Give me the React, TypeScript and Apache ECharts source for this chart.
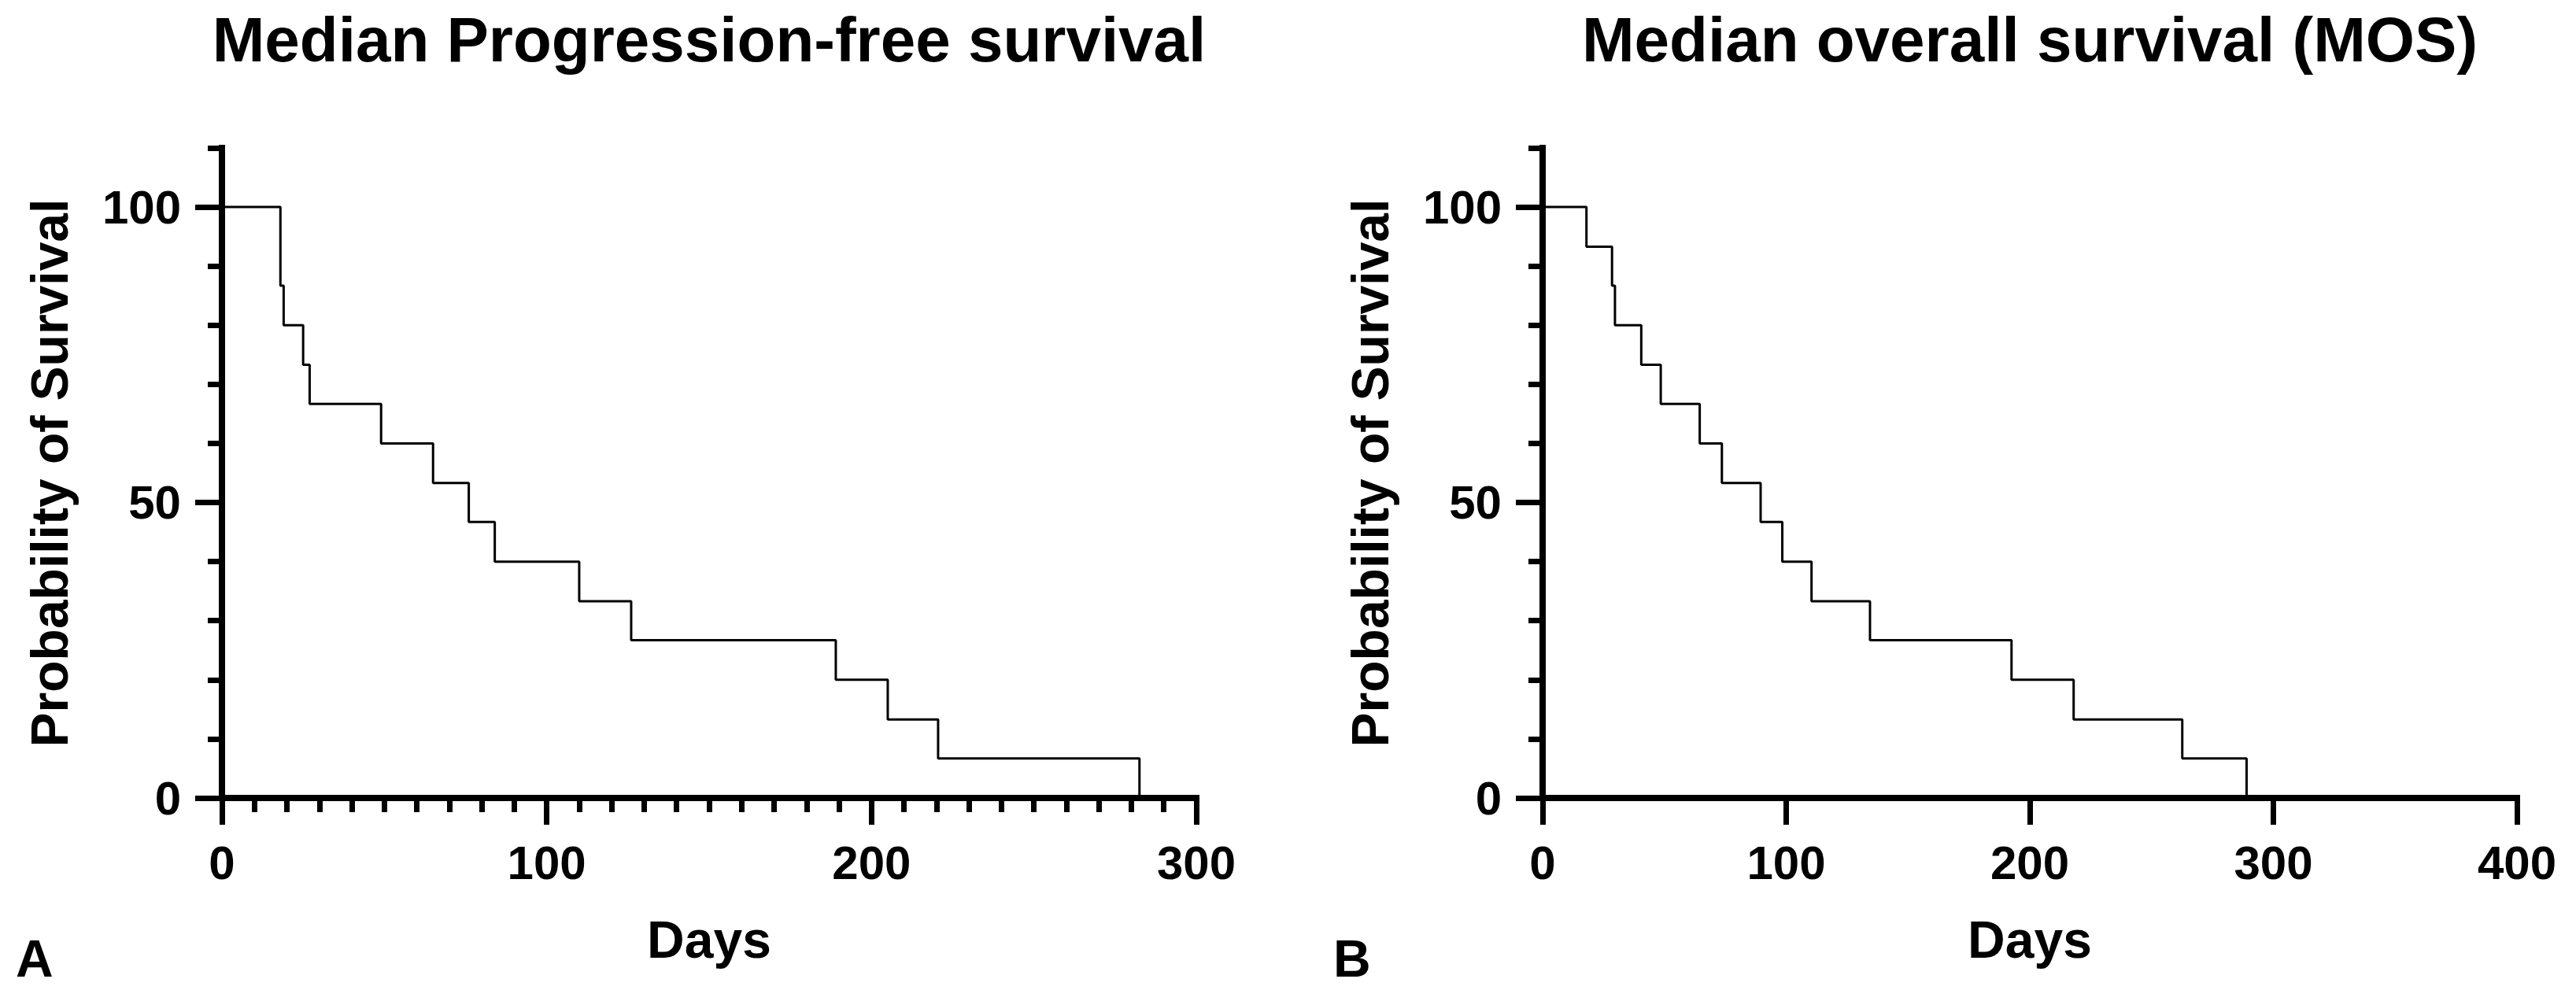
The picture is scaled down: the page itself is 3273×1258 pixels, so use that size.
import React, { useEffect, useRef } from "react";
import * as echarts from "echarts";

// ---- Data ----
const PFS_DAYS = [0, 18, 19, 25, 27, 49, 65, 76, 84, 110, 126, 189, 205, 220.5, 282.5];
const PFS_SURVIVAL = [100, 86.7, 80, 73.3, 66.7, 60, 53.3, 46.7, 40, 33.3, 26.7, 20, 13.3, 6.7, 0];

const OS_DAYS = [0, 18, 28.5, 29.7, 40.5, 48.5, 64.5, 73.6, 89.5, 98.4, 110.4, 134.4, 192.5, 218, 262.6, 289];
const OS_SURVIVAL = [100, 93.3, 86.7, 80, 73.3, 66.7, 60, 53.3, 46.7, 40, 33.3, 26.7, 20, 13.3, 6.7, 0];

const Y_MAJOR_TICKS = [0, 50, 100];
const TITLES = ["Median Progression-free survival", "Median overall survival (MOS)"];
const PANEL_LETTERS = ["A", "B"];
const X_NAME = "Days";
const Y_NAME = "Probability of Survival";

const FONT = "'Liberation Sans', Arial, Helvetica, sans-serif";
const BLACK = "#000000";

export default function App() {
  const ref = useRef<HTMLDivElement>(null);

  useEffect(() => {
    if (!ref.current) return;
    const chart = echarts.init(ref.current, null, { renderer: "svg" });

    const gridTop = 188;
    const gridH = 826;
    const gridW = 1238;
    const leftA = 282;
    const leftB = 1960;

    const axisLine = { show: true, lineStyle: { color: BLACK, width: 8, cap: "square" } };
    const tickStyle = { color: BLACK, width: 7 };
    const labelStyle = {
      color: BLACK,
      fontFamily: FONT,
      fontWeight: "bold" as const,
      fontSize: 60,
      margin: 52,
    };
    const nameStyle = {
      color: BLACK,
      fontFamily: FONT,
      fontWeight: "bold" as const,
      fontSize: 66,
    };

    const makeYAxes = (gridIndex: number) => [
      {
        type: "value",
        gridIndex,
        position: "left",
        min: 0,
        max: 110,
        interval: 10,
        axisLine,
        axisTick: {
          show: true,
          customValues: Y_MAJOR_TICKS,
          length: 34,
          lineStyle: tickStyle,
        },
        axisLabel: { ...labelStyle, customValues: Y_MAJOR_TICKS },
        splitLine: { show: false },
        name: Y_NAME,
        nameLocation: "middle",
        nameRotate: 90,
        nameGap: 186,
        nameTextStyle: nameStyle,
      },
      {
        type: "value",
        gridIndex,
        position: "left",
        offset: 0,
        min: 0,
        max: 110,
        interval: 10,
        axisLine: { show: false },
        axisTick: { show: true, length: 18, lineStyle: tickStyle },
        axisLabel: { show: false },
        splitLine: { show: false },
      },
    ];

    const option: any = {
      animation: false,
      backgroundColor: "#ffffff",
      title: [
        {
          text: TITLES[0],
          left: leftA + gridW / 2,
          top: 10,
          textAlign: "center",
          padding: 0,
          textStyle: { color: BLACK, fontFamily: FONT, fontWeight: "bold", fontSize: 80 },
        },
        {
          text: TITLES[1],
          left: leftB + gridW / 2,
          top: 10,
          textAlign: "center",
          padding: 0,
          textStyle: { color: BLACK, fontFamily: FONT, fontWeight: "bold", fontSize: 80 },
        },
      ],
      grid: [
        { left: leftA, top: gridTop, width: gridW, height: gridH, containLabel: false },
        { left: leftB, top: gridTop, width: gridW, height: gridH, containLabel: false },
      ],
      xAxis: [
        {
          type: "value",
          gridIndex: 0,
          position: "bottom",
          min: 0,
          max: 300,
          interval: 100,
          axisLine,
          axisTick: { show: true, length: 34, lineStyle: tickStyle },
          minorTick: { show: true, splitNumber: 10, length: 18, lineStyle: tickStyle },
          axisLabel: labelStyle,
          splitLine: { show: false },
          minorSplitLine: { show: false },
          name: X_NAME,
          nameLocation: "middle",
          nameGap: 147,
          nameTextStyle: nameStyle,
        },
        {
          type: "value",
          gridIndex: 1,
          position: "bottom",
          min: 0,
          max: 400,
          interval: 100,
          axisLine,
          axisTick: { show: true, length: 34, lineStyle: tickStyle },
          axisLabel: labelStyle,
          splitLine: { show: false },
          name: X_NAME,
          nameLocation: "middle",
          nameGap: 147,
          nameTextStyle: nameStyle,
        },
      ],
      yAxis: [...makeYAxes(0), ...makeYAxes(1)],
      series: [
        {
          type: "line",
          name: TITLES[0],
          xAxisIndex: 0,
          yAxisIndex: 0,
          step: "end",
          showSymbol: false,
          symbol: "none",
          lineStyle: { color: BLACK, width: 3 },
          data: PFS_DAYS.map((d, i) => [d, PFS_SURVIVAL[i]]),
        },
        {
          type: "line",
          name: TITLES[1],
          xAxisIndex: 1,
          yAxisIndex: 2,
          step: "end",
          showSymbol: false,
          symbol: "none",
          lineStyle: { color: BLACK, width: 3 },
          data: OS_DAYS.map((d, i) => [d, OS_SURVIVAL[i]]),
        },
      ],
      graphic: [
        {
          type: "text",
          x: 20,
          y: 1218,
          style: {
            text: PANEL_LETTERS[0],
            fill: BLACK,
            font: `bold 66px ${FONT}`,
            align: "left",
            verticalAlign: "middle",
          },
        },
        {
          type: "text",
          x: 1694,
          y: 1218,
          style: {
            text: PANEL_LETTERS[1],
            fill: BLACK,
            font: `bold 66px ${FONT}`,
            align: "left",
            verticalAlign: "middle",
          },
        },
      ],
    };

    chart.setOption(option);
    return () => chart.dispose();
  }, []);

  return (
    <div
      ref={ref}
      style={{ position: "absolute", left: 0, top: 0, width: 3273, height: 1258, background: "#fff" }}
    />
  );
}
